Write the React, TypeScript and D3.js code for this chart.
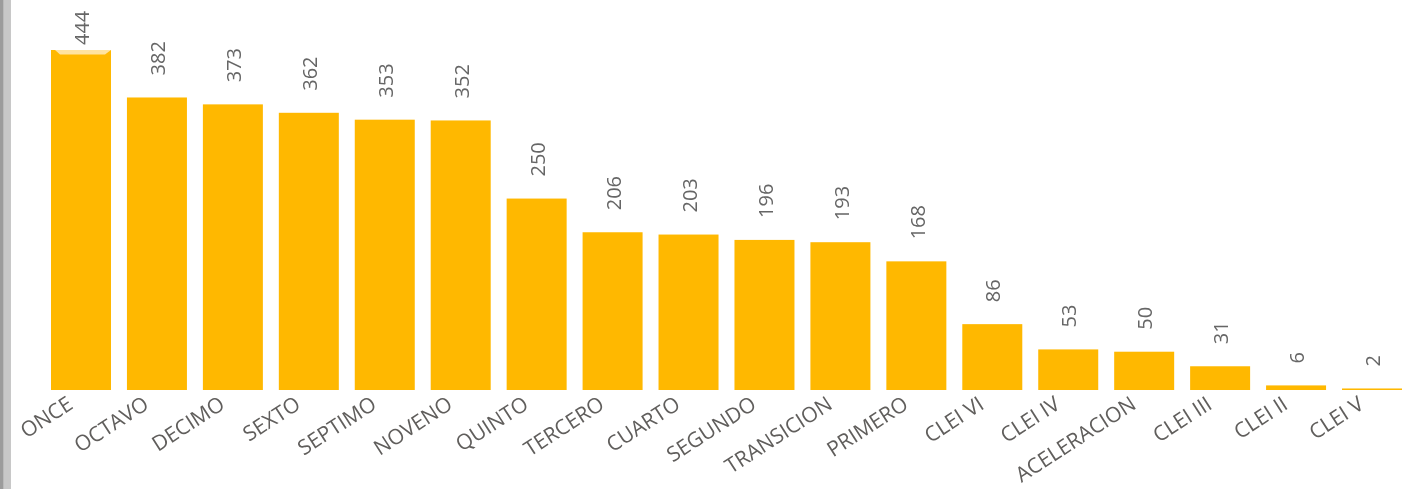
import { useEffect, useRef } from 'react';
import * as d3 from 'd3';

const categories = [
  'ONCE', 'OCTAVO', 'DECIMO', 'SEXTO', 'SEPTIMO', 'NOVENO', 'QUINTO', 'TERCERO', 'CUARTO',
  'SEGUNDO', 'TRANSICION', 'PRIMERO', 'CLEI VI', 'CLEI IV', 'ACELERACION', 'CLEI III', 'CLEI II', 'CLEI V',
];
const values = [444, 382, 373, 362, 353, 352, 250, 206, 203, 196, 193, 168, 86, 53, 50, 31, 6, 2];

const App = () => {
  const svgRef = useRef(null);

  useEffect(() => {
    const svg = d3.select(svgRef.current);
    svg.selectAll('*').remove();

    const width = 1413;
    const height = 489;
    svg.attr('width', width).attr('height', height);

    const data = categories.map((c, i) => ({ cat: c, value: values[i] }));

    // x band scale: bars ~60px wide on a ~76px step
    const x = d3.scaleBand()
      .domain(categories)
      .range([51, 1402])
      .paddingInner(0.21)
      .paddingOuter(0);

    const y = d3.scaleLinear()
      .domain([0, d3.max(values)])
      .range([390, 50]);

    // grey strip on the left edge
    svg.append('rect').attr('x', 0).attr('y', 0).attr('width', 11).attr('height', height).attr('fill', '#c8c8c8');
    svg.append('rect').attr('x', 0).attr('y', 0).attr('width', 3.3).attr('height', height).attr('fill', '#9c9c9c');

    svg.selectAll('.bar')
      .data(data)
      .enter()
      .append('rect')
      .attr('class', 'bar')
      .attr('x', d => x(d.cat))
      .attr('y', d => y(d.value))
      .attr('width', x.bandwidth())
      .attr('height', d => y(0) - y(d.value))
      .attr('fill', '#FFB800');

    // selection highlight at the top of the first bar
    const first = data[0];
    const x0 = x(first.cat);
    const x1 = x0 + x.bandwidth();
    const t = y(first.value);
    svg.append('polygon')
      .attr('points', `${x0 + 4},${t} ${x1},${t} ${x1 - 6},${t + 4.5} ${x0 + 9},${t + 4.5}`)
      .attr('fill', '#FFE3A0');

    // value labels, rotated
    svg.selectAll('.val')
      .data(data)
      .enter()
      .append('text')
      .attr('class', 'val')
      .attr('transform', d => {
        const cx = x(d.cat) + x.bandwidth() / 2 + 1;
        const endY = Math.max(y(d.value) - 22, 45);
        return `translate(${cx},${endY}) rotate(-90)`;
      })
      .attr('text-anchor', 'start')
      .attr('dy', '0.36em')
      .attr('font-family', '"Open Sans", sans-serif')
      .attr('font-size', 20)
      .attr('fill', '#666666')
      .text(d => d.value);

    // category labels
    svg.selectAll('.cat')
      .data(data)
      .enter()
      .append('text')
      .attr('class', 'cat')
      .attr('transform', d => `translate(${x(d.cat) + x.bandwidth() / 2 - 15},395) rotate(-33)`)
      .attr('text-anchor', 'end')
      .attr('dy', '0.72em')
      .attr('font-family', '"Open Sans", sans-serif')
      .attr('font-size', 21)
      .attr('fill', '#605E5C')
      .text(d => d.cat);
  }, []);

  return (
    <svg ref={svgRef} style={{ position: 'fixed', left: 0, top: 0 }}></svg>
  );
};

export default App;
